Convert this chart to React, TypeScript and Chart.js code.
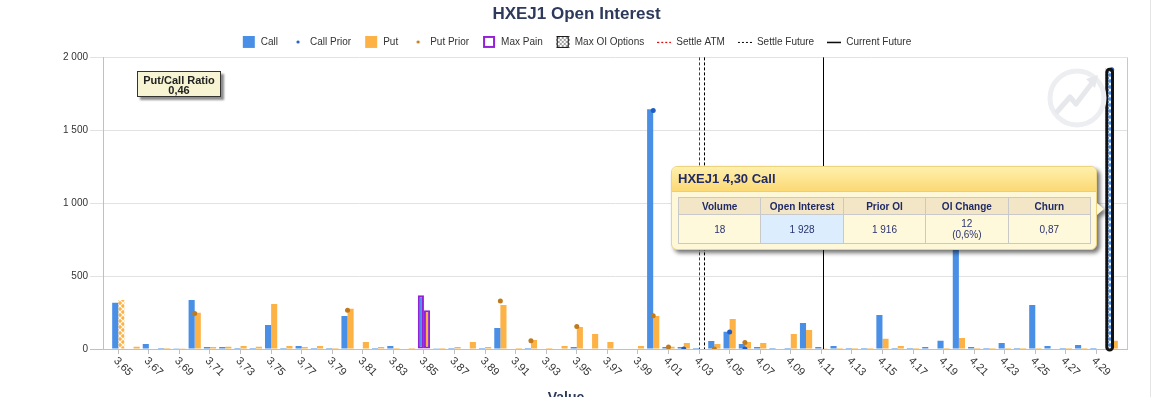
import React, { useEffect, useRef } from 'react';
import { Chart, registerables } from 'chart.js';

Chart.register(...registerables);

const TITLE = 'HXEJ1 Open Interest';
const X_TITLE = 'Value';

const STRIKES = [
  '3,65', '3,66', '3,67', '3,68', '3,69', '3,70', '3,71', '3,72', '3,73', '3,74',
  '3,75', '3,76', '3,77', '3,78', '3,79', '3,80', '3,81', '3,82', '3,83', '3,84',
  '3,85', '3,86', '3,87', '3,88', '3,89', '3,90', '3,91', '3,92', '3,93', '3,94',
  '3,95', '3,96', '3,97', '3,98', '3,99', '4,00', '4,01', '4,02', '4,03', '4,04',
  '4,05', '4,06', '4,07', '4,08', '4,09', '4,10', '4,11', '4,12', '4,13', '4,14',
  '4,15', '4,16', '4,17', '4,18', '4,19', '4,20', '4,21', '4,22', '4,23', '4,24',
  '4,25', '4,26', '4,27', '4,28', '4,29', '4,30',
];

const CALL_OI = [
  317, 0, 34, 7, 2, 336, 14, 14, 7, 7,
  164, 7, 20, 7, 7, 226, 0, 7, 20, 0,
  368, 2, 7, 0, 7, 144, 0, 7, 0, 0,
  14, 0, 0, 0, 0, 1645, 14, 14, 7, 55,
  119, 34, 14, 7, 7, 178, 14, 20, 7, 7,
  233, 7, 7, 14, 57, 1240, 14, 7, 41, 7,
  301, 20, 7, 27, 7, 1928,
];

const PUT_OI = [
  336, 16, 0, 7, 5, 249, 14, 16, 20, 16,
  308, 20, 14, 20, 7, 276, 48, 14, 7, 7,
  265, 7, 14, 48, 14, 301, 7, 62, 7, 20,
  151, 103, 48, 0, 20, 226, 16, 41, 0, 34,
  205, 48, 41, 0, 103, 130, 5, 7, 7, 7,
  71, 20, 7, 0, 7, 75, 7, 7, 7, 7,
  7, 0, 7, 7, 0, 57,
];

const CALL_PRIOR = [
  null, null, null, null, null, null, null, null, null, null,
  null, null, null, null, null, null, null, null, null, null,
  null, null, null, null, null, null, null, null, null, null,
  null, null, null, null, null, 1635, null, 0, null, null,
  117, 0, null, null, null, null, null, null, null, null,
  null, null, null, null, null, null, null, null, null, null,
  null, null, null, null, null, 1916,
];

const PUT_PRIOR = [
  null, null, null, null, null, 244, null, null, null, null,
  null, null, null, null, null, 265, null, null, null, null,
  null, null, null, null, null, 329, null, 57, null, null,
  155, null, null, null, null, 228, 14, null, null, 0,
  null, 45, null, null, null, null, null, null, null, null,
  null, null, null, null, null, null, null, null, null, null,
  null, null, null, null, null, null,
];

const Y_MAX = 2000;
const Y_STEP = 500;

const MAX_PAIN_STRIKE = '3,85';
const MAX_OI_CALL_STRIKE = '4,30';
const MAX_OI_PUT_STRIKE = '3,65';
const HOVER_CALL_STRIKE = '4,30';

const FIRST_STRIKE = 3.65;
const STRIKE_STEP = 0.01;
const SETTLE_ATM = 4.03;
const SETTLE_FUTURE = 4.033;
const CURRENT_FUTURE = 4.111;

const PUT_CALL_RATIO = '0,46';
const TIP_TITLE = 'HXEJ1 4,30 Call';
const TIP_HEADERS = ['Volume', 'Open Interest', 'Prior OI', 'OI Change', 'Churn'];
const TIP_VALUES = ['18', '1 928', '1 916', '12\n(0,6%)', '0,87'];

const LEGEND_LABELS = ['Call', 'Call Prior', 'Put', 'Put Prior', 'Max Pain', 'Max OI Options', 'Settle ATM', 'Settle Future', 'Current Future'];

const CALL_COLOR = '#4a8fe6';
const PUT_COLOR = '#fdb245';
const CALL_PRIOR_COLOR = '#1f5cc4';
const PUT_PRIOR_COLOR = '#c07a1e';
const PURPLE = '#9420d8';
const FONT = '"Liberation Sans", Arial, sans-serif';

function makePattern(color: string) {
  const c = document.createElement('canvas');
  c.width = 6;
  c.height = 6;
  const g = c.getContext('2d')!;
  g.fillStyle = color;
  g.fillRect(0, 0, 6, 6);
  g.strokeStyle = 'rgba(255,255,255,0.95)';
  g.lineWidth = 1.1;
  g.beginPath();
  g.moveTo(0, 0); g.lineTo(6, 6);
  g.moveTo(6, 0); g.lineTo(0, 6);
  g.stroke();
  return g.createPattern(c, 'repeat')!;
}

function makeIcon(kind: number) {
  const c = document.createElement('canvas');
  c.width = 14;
  c.height = 13;
  const g = c.getContext('2d')!;
  switch (kind) {
    case 0: g.fillStyle = CALL_COLOR; g.fillRect(1, 0, 12, 12); break;
    case 1: g.fillStyle = CALL_PRIOR_COLOR; g.beginPath(); g.arc(7, 6, 1.6, 0, Math.PI * 2); g.fill(); break;
    case 2: g.fillStyle = PUT_COLOR; g.fillRect(1, 0, 12, 12); break;
    case 3: g.fillStyle = PUT_PRIOR_COLOR; g.beginPath(); g.arc(7, 6, 1.6, 0, Math.PI * 2); g.fill(); break;
    case 4: g.fillStyle = '#fff'; g.fillRect(1, 0, 12, 12); g.strokeStyle = PURPLE; g.lineWidth = 2; g.strokeRect(2, 1, 10, 10); break;
    case 5: {
      g.fillStyle = '#fff'; g.fillRect(1, 0, 12, 12);
      g.strokeStyle = '#888'; g.lineWidth = 0.8; g.beginPath();
      for (let k = -12; k <= 12; k += 4) { g.moveTo(1 + k, 0); g.lineTo(13 + k, 12); g.moveTo(13 - k, 0); g.lineTo(1 - k, 12); }
      g.stroke();
      g.strokeStyle = '#111'; g.lineWidth = 1; g.strokeRect(1.5, 0.5, 11, 11); break;
    }
    case 6: g.strokeStyle = '#dd0000'; g.lineWidth = 1.2; g.setLineDash([2, 2]); g.beginPath(); g.moveTo(0, 6.5); g.lineTo(14, 6.5); g.stroke(); break;
    case 7: g.strokeStyle = '#000'; g.lineWidth = 1; g.setLineDash([2, 2]); g.beginPath(); g.moveTo(0, 6.5); g.lineTo(14, 6.5); g.stroke(); break;
    default: g.strokeStyle = '#000'; g.lineWidth = 1.5; g.beginPath(); g.moveTo(0, 6.5); g.lineTo(14, 6.5); g.stroke(); break;
  }
  return c;
}

const pad = (a: (number | null)[]) => [null, ...a, null];

const extrasPlugin = {
  id: 'extras',
  afterDatasetsDraw(chart: any) {
    const { ctx, chartArea } = chart;
    const xs = chart.scales.x;
    const strikeToPx = (v: number) => {
      const pos = (v - FIRST_STRIKE) / STRIKE_STEP + 1;
      const i0 = Math.floor(pos + 1e-9);
      const f = pos - i0;
      const p0 = xs.getPixelForValue(i0);
      const p1 = xs.getPixelForValue(i0 + 1);
      return p0 + (p1 - p0) * f;
    };
    ctx.save();
    const hi = STRIKES.indexOf(HOVER_CALL_STRIKE) + 1;
    const el = chart.getDatasetMeta(0).data[hi];
    if (el) {
      const { x, y, base, width } = el.getProps(['x', 'y', 'base', 'width'], true);
      const L = x - width / 2;
      ctx.lineWidth = 3;
      ctx.strokeStyle = '#111';
      ctx.beginPath();
      if (ctx.roundRect) ctx.roundRect(L + 1.2, y + 1.3, width - 0.4, base - y + 0.2, 3);
      else ctx.rect(L + 1.2, y + 1.3, width - 0.4, base - y + 0.2);
      ctx.stroke();
    }
    const vline = (v: number, color: string, dash: number[]) => {
      const px = Math.round(strikeToPx(v)) + 0.5;
      ctx.strokeStyle = color;
      ctx.lineWidth = 1;
      ctx.setLineDash(dash);
      ctx.beginPath();
      ctx.moveTo(px, chartArea.top);
      ctx.lineTo(px, chartArea.bottom);
      ctx.stroke();
    };
    vline(SETTLE_ATM, '#cc0000', [3, 2]);
    vline(SETTLE_FUTURE, '#000', [3, 2]);
    vline(CURRENT_FUTURE, '#000', []);
    ctx.setLineDash([]);
    ctx.restore();
  },
  afterDraw(chart: any) {
    const { ctx, chartArea } = chart;
    const xs = chart.scales.x;
    ctx.save();
    ctx.strokeStyle = '#c8c8c8';
    ctx.lineWidth = 1;
    ctx.beginPath();
    ctx.moveTo(Math.round(chartArea.right) + 0.5, chartArea.top);
    ctx.lineTo(Math.round(chartArea.right) + 0.5, chartArea.bottom);
    ctx.stroke();
    ctx.font = '11px ' + FONT;
    ctx.fillStyle = '#333';
    ctx.textAlign = 'left';
    ctx.textBaseline = 'middle';
    for (let i = 0; i < STRIKES.length; i += 2) {
      const px = xs.getPixelForValue(i + 1);
      ctx.save();
      ctx.translate(px - 3, xs.top + 10);
      ctx.rotate(Math.PI / 4);
      ctx.fillText(STRIKES[i], 0, 0);
      ctx.restore();
    }
    ctx.font = 'bold 14px ' + FONT;
    ctx.fillStyle = '#2e3a5c';
    ctx.textAlign = 'center';
    ctx.textBaseline = 'top';
    ctx.fillText(X_TITLE, 566, 391);
    ctx.restore();
  },
};

export default function App() {
  const ref = useRef<HTMLCanvasElement | null>(null);

  useEffect(() => {
    if (!ref.current) return;
    const labels = ['', ...STRIKES, ''];
    const callPattern = makePattern(CALL_COLOR);
    const putPattern = makePattern(PUT_COLOR);
    const maxPainIdx = STRIKES.indexOf(MAX_PAIN_STRIKE) + 1;
    const maxCallIdx = STRIKES.indexOf(MAX_OI_CALL_STRIKE) + 1;
    const maxPutIdx = STRIKES.indexOf(MAX_OI_PUT_STRIKE) + 1;
    const icons = LEGEND_LABELS.map((_, i) => makeIcon(i));

    const chart = new Chart(ref.current, {
      type: 'bar',
      data: {
        labels,
        datasets: [
          {
            type: 'bar',
            label: 'Call',
            data: pad(CALL_OI),
            backgroundColor: (c: any) => (c.dataIndex === maxCallIdx ? callPattern : CALL_COLOR),
            borderColor: (c: any) => (c.dataIndex === maxPainIdx ? PURPLE : 'rgba(0,0,0,0)'),
            borderWidth: (c: any) => (c.dataIndex === maxPainIdx ? 2 : 0),
            borderSkipped: false,
            categoryPercentage: 0.8,
            barPercentage: 1.0,
            order: 2,
          },
          {
            type: 'bar',
            label: 'Put',
            data: pad(PUT_OI),
            backgroundColor: (c: any) => (c.dataIndex === maxPutIdx ? putPattern : PUT_COLOR),
            borderColor: (c: any) => (c.dataIndex === maxPainIdx ? PURPLE : 'rgba(0,0,0,0)'),
            borderWidth: (c: any) => (c.dataIndex === maxPainIdx ? 2 : 0),
            borderSkipped: false,
            categoryPercentage: 0.8,
            barPercentage: 1.0,
            order: 2,
          },
          {
            type: 'line',
            label: 'Call Prior',
            data: pad(CALL_PRIOR),
            showLine: false,
            pointRadius: 2.5,
            pointBackgroundColor: CALL_PRIOR_COLOR,
            pointBorderWidth: 0,
            order: 1,
          },
          {
            type: 'line',
            label: 'Put Prior',
            data: pad(PUT_PRIOR),
            showLine: false,
            pointRadius: 2.5,
            pointBackgroundColor: PUT_PRIOR_COLOR,
            pointBorderWidth: 0,
            order: 1,
          },
        ] as any,
      },
      options: {
        responsive: false,
        animation: false,
        layout: { padding: 0 },
        scales: {
          x: {
            type: 'category',
            offset: false,
            grid: {
              offset: false,
              drawOnChartArea: false,
              drawTicks: true,
              tickLength: 5,
              color: (c: any) => (c.index % 2 === 1 && c.index <= STRIKES.length ? '#c0c0c0' : 'rgba(0,0,0,0)'),
            },
            border: { color: '#c0c0c0' },
            ticks: { display: false, autoSkip: false },
            afterFit: (s: any) => { s.height = 48; },
          },
          y: {
            min: 0,
            max: Y_MAX,
            ticks: {
              stepSize: Y_STEP,
              padding: 2,
              color: '#333',
              font: { family: FONT, size: 10 },
              callback: (v: any) => String(v).replace(/\B(?=(\d{3})+(?!\d))/g, ' '),
            },
            grid: {
              color: (c: any) => (c.tick && c.tick.value === 0 ? '#c0c0c0' : '#e2e2e2'),
              tickLength: 13,
              drawTicks: true,
            },
            border: { color: '#c0c0c0' },
            afterFit: (s: any) => { s.width = 103; },
          },
          yRight: {
            axis: 'y',
            position: 'right',
            display: true,
            grid: { display: false },
            ticks: { display: false },
            border: { display: false },
            afterFit: (s: any) => { s.width = 26; },
          },
        } as any,
        plugins: {
          title: {
            display: true,
            text: TITLE,
            color: '#2e3a5c',
            font: { family: FONT, size: 17, weight: 'bold' },
            padding: { top: 4, bottom: 0 },
          },
          legend: {
            display: true,
            onClick: () => {},
            labels: {
              usePointStyle: true,
              pointStyleWidth: 14,
              padding: 13,
              color: '#333',
              font: { family: FONT, size: 10 },
              generateLabels: () =>
                LEGEND_LABELS.map((t, i) => ({
                  text: t,
                  pointStyle: icons[i],
                  fillStyle: 'rgba(0,0,0,0)',
                  strokeStyle: 'rgba(0,0,0,0)',
                  lineWidth: 0,
                  hidden: false,
                  fontColor: '#333',
                })) as any,
            },
          },
          tooltip: { enabled: false },
        },
      } as any,
      plugins: [extrasPlugin],
    });
    return () => chart.destroy();
  }, []);

  const cell: React.CSSProperties = { border: '1px solid #c9c9c9', textAlign: 'center', padding: 0 };

  return (
    <div style={{ position: 'fixed', left: 0, top: 0, width: 1153, height: 397, background: '#fff', overflow: 'hidden', fontFamily: FONT }}>
      <canvas ref={ref} width={1153} height={397} style={{ position: 'absolute', left: 0, top: 0, width: 1153, height: 397 }} />
      <div style={{ position: 'absolute', left: 1150, top: 0, width: 1, height: 397, background: '#e4e4e4' }} />
      <svg style={{ position: 'absolute', left: 1046, top: 67 }} width={62} height={62} viewBox="0 0 62 62">
        <circle cx={31} cy={31} r={27} fill="none" stroke="#eceef1" strokeWidth={5} />
        <polyline points="10,46 24,30 30,37 46,16" fill="none" stroke="#e6e8ec" strokeWidth={5} strokeLinejoin="round" />
        <polygon points="40,12 52,8 49,21" fill="#e6e8ec" />
      </svg>
      <div
        style={{
          position: 'absolute', left: 137, top: 71, width: 82, height: 21,
          border: '1px solid #333', background: '#f6f4d3', boxShadow: '3px 3px 2px rgba(0,0,0,0.45)',
          textAlign: 'center', fontWeight: 'bold', fontSize: 11, lineHeight: '10px', paddingTop: 3, color: '#222',
          boxSizing: 'content-box',
        }}
      >
        <div>Put/Call Ratio</div>
        <div>{PUT_CALL_RATIO}</div>
      </div>
      <div
        style={{
          position: 'absolute', left: 671, top: 166, width: 426, height: 84,
          filter: 'drop-shadow(3px 3px 2px rgba(0,0,0,0.55))',
        }}
      >
        <div style={{ position: 'absolute', inset: 0, borderRadius: 6, background: '#fff8d8', border: '1px solid #ecd37e', boxSizing: 'border-box', overflow: 'hidden' }}>
          <div style={{ height: 24, background: 'linear-gradient(#fff0ad, #fbd974)', borderBottom: '1px solid #e9cf7c', color: '#1f2a66', fontWeight: 'bold', fontSize: 13, lineHeight: '23px', paddingLeft: 6 }}>
            {TIP_TITLE}
          </div>
          <table style={{ position: 'absolute', left: 6, top: 30, width: 413, borderCollapse: 'collapse', fontSize: 10, color: '#1f2a66', tableLayout: 'fixed' }}>
            <tbody>
              <tr style={{ height: 17, background: '#f3e6c6' }}>
                {TIP_HEADERS.map((h) => (
                  <td key={h} style={{ ...cell, fontWeight: 'bold' }}>{h}</td>
                ))}
              </tr>
              <tr style={{ height: 29, background: '#fff9dc' }}>
                {TIP_VALUES.map((v, i) => (
                  <td key={i} style={{ ...cell, color: '#2a3270', background: i === 1 ? '#dcedfd' : undefined, whiteSpace: 'pre-line', lineHeight: '11px' }}>{v}</td>
                ))}
              </tr>
            </tbody>
          </table>
        </div>
        <div style={{ position: 'absolute', right: -7, top: 37, width: 0, height: 0, borderTop: '6px solid transparent', borderBottom: '6px solid transparent', borderLeft: '7px solid #fff8d8' }} />
      </div>
    </div>
  );
}
